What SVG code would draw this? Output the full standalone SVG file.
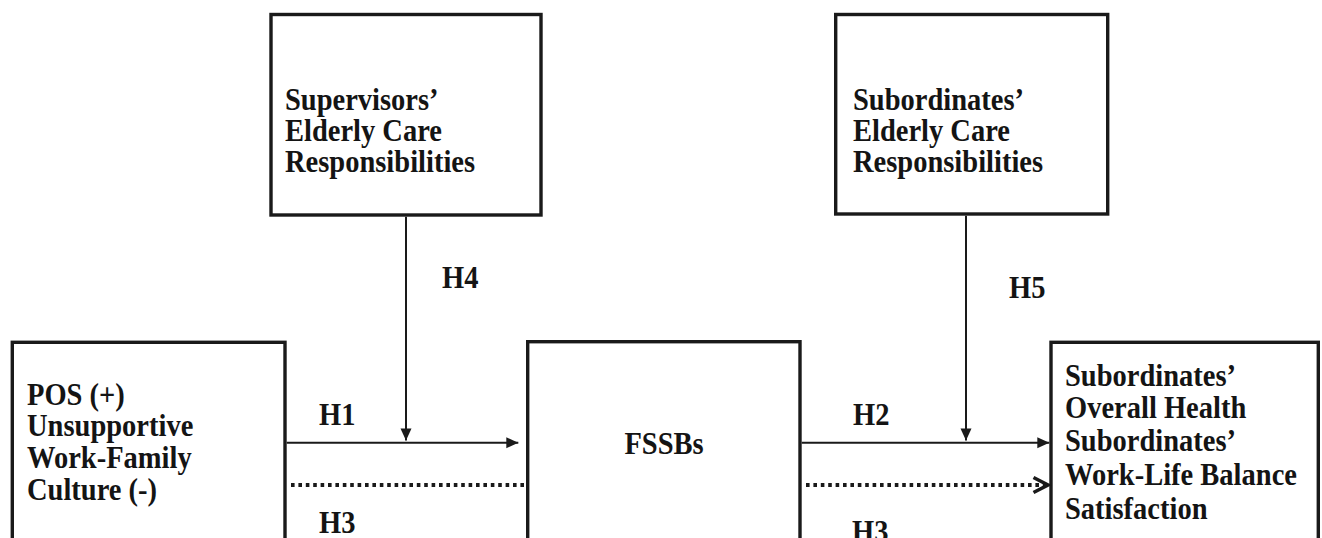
<svg xmlns="http://www.w3.org/2000/svg" width="1322" height="538" viewBox="0 0 1322 538">
<style>
.box{fill:#fff;stroke:#1a1a1a;stroke-width:3.4}
.t{font-family:"Liberation Serif","Times New Roman",serif;font-weight:bold;font-size:31px;fill:#141414}
.ln{stroke:#1a1a1a;stroke-width:2;fill:none}
.dot{stroke:#1a1a1a;stroke-width:4;stroke-dasharray:3.6 3.8;fill:none}
</style>
<defs>
<marker id="tri" markerUnits="userSpaceOnUse" markerWidth="14" markerHeight="14" refX="12" refY="6" orient="auto" overflow="visible">
<path d="M0,0.5 L12,6 L0,11.5 z" fill="#1a1a1a"/>
</marker>
<marker id="chev" markerUnits="userSpaceOnUse" markerWidth="20" markerHeight="20" refX="16" refY="8" orient="auto" overflow="visible">
<path d="M1.5,0.5 L16,8 L1.5,15.5" fill="none" stroke="#1a1a1a" stroke-width="3.6"/>
</marker>
</defs>
<rect width="1322" height="538" fill="#fff"/>

<g id="supervisors">
<rect class="box" x="271" y="14.5" width="270" height="200.5"/>
<text class="t" transform="translate(285,0) scale(0.92,1)"><tspan x="0" y="110">Supervisors’</tspan><tspan x="0" y="141">Elderly Care</tspan><tspan x="0" y="172">Responsibilities</tspan></text>
</g>

<g id="subordinates-care">
<rect class="box" x="835.7" y="14.5" width="272" height="199.5"/>
<text class="t" transform="translate(853,0) scale(0.92,1)"><tspan x="0" y="110">Subordinates’</tspan><tspan x="0" y="141">Elderly Care</tspan><tspan x="0" y="172">Responsibilities</tspan></text>
</g>

<g id="pos">
<rect class="box" x="12.3" y="342.3" width="272.7" height="260"/>
<text class="t" transform="translate(27,0) scale(0.92,1)"><tspan x="0" y="405">POS (+)</tspan><tspan x="0" y="436.5">Unsupportive</tspan><tspan x="0" y="468">Work-Family</tspan><tspan x="0" y="500">Culture (-)</tspan></text>
</g>

<g id="fssbs">
<rect class="box" x="527.7" y="341.7" width="272.3" height="260"/>
<text class="t" text-anchor="middle" transform="translate(664,0) scale(0.92,1)"><tspan x="0" y="454">FSSBs</tspan></text>
</g>

<g id="outcomes">
<rect class="box" x="1051" y="342.3" width="267.3" height="260"/>
<text class="t" transform="translate(1065,0) scale(0.92,1)"><tspan x="0" y="386">Subordinates’</tspan><tspan x="0" y="418.5">Overall Health</tspan><tspan x="0" y="451.5">Subordinates’</tspan><tspan x="0" y="485">Work-Life Balance</tspan><tspan x="0" y="519">Satisfaction</tspan></text>
</g>

<g id="connectors">
<line class="ln" x1="286.7" y1="442.7" x2="518.3" y2="442.7" marker-end="url(#tri)"/>
<line class="ln" x1="406" y1="216.7" x2="406" y2="440.5" marker-end="url(#tri)"/>
<line class="ln" x1="801.7" y1="442.7" x2="1049.3" y2="442.7" marker-end="url(#tri)"/>
<line class="ln" x1="966" y1="215.7" x2="966" y2="440.5" marker-end="url(#tri)"/>
<line class="dot" x1="291" y1="485" x2="526" y2="485"/>
<line class="dot" x1="806" y1="485" x2="1048" y2="485" marker-end="url(#chev)"/>
</g>

<g id="labels">
<text class="t" transform="translate(319,0) scale(0.92,1)"><tspan x="0" y="425">H1</tspan></text>
<text class="t" transform="translate(319,0) scale(0.92,1)"><tspan x="0" y="533">H3</tspan></text>
<text class="t" transform="translate(442,0) scale(0.92,1)"><tspan x="0" y="288">H4</tspan></text>
<text class="t" transform="translate(853,0) scale(0.92,1)"><tspan x="0" y="425">H2</tspan></text>
<text class="t" transform="translate(852,0) scale(0.92,1)"><tspan x="0" y="542">H3</tspan></text>
<text class="t" transform="translate(1009,0) scale(0.92,1)"><tspan x="0" y="298">H5</tspan></text>
</g>
</svg>
